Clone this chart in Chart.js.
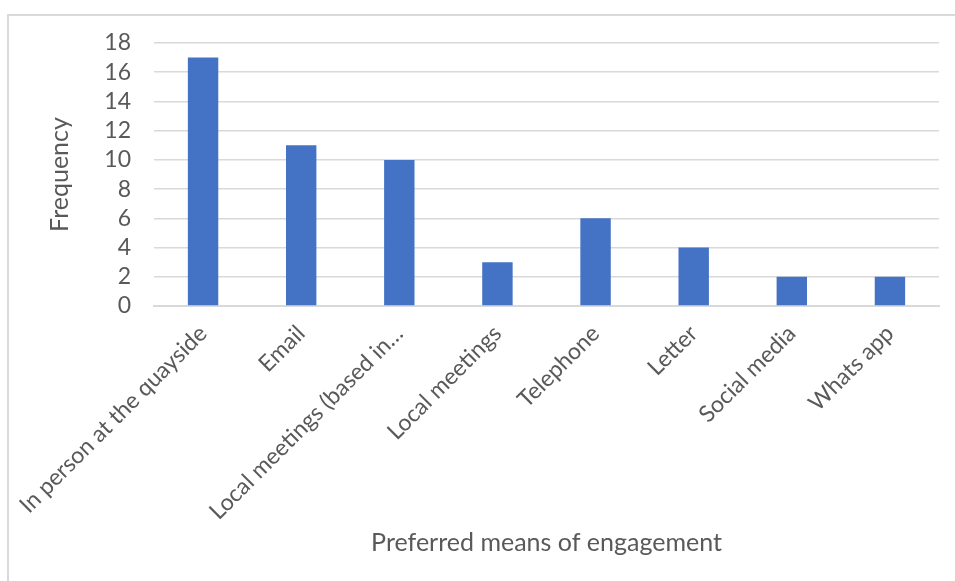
<!DOCTYPE html>
<html>
<head>
<meta charset="utf-8">
<script src="https://cdn.jsdelivr.net/npm/chart.js@4/dist/chart.umd.min.js"></script>
<style>
  html, body { margin: 0; padding: 0; background: #ffffff; }
  #wrap { position: relative; width: 955px; height: 581px; }
</style>
</head>
<body>
<div id="wrap"><canvas id="c" width="955" height="581"></canvas></div>
<script>
const categories = [
  "In person at the quayside",
  "Email",
  "Local meetings (based in\u2026",
  "Local meetings",
  "Telephone",
  "Letter",
  "Social media",
  "Whats app"
];
const frequency = [17, 11, 10, 3, 6, 4, 2, 2];
const yTicks = [0, 2, 4, 6, 8, 10, 12, 14, 16, 18];
const yTitle = "Frequency";
const xTitle = "Preferred means of engagement";

const FONT = "Lato, 'Open Sans', sans-serif";
const TEXT = "#595959";

const frame = {
  id: "frame",
  beforeDraw(chart) {
    const ctx = chart.ctx;
    ctx.save();
    ctx.fillStyle = "#ffffff";
    ctx.fillRect(0, 0, chart.width, chart.height);
    ctx.strokeStyle = "#d9d9d9";
    ctx.lineWidth = 2;
    ctx.strokeRect(8, 15, 1000, 700);
    ctx.restore();
  }
};

new Chart(document.getElementById("c"), {
  type: "bar",
  data: {
    labels: categories,
    datasets: [{
      label: yTitle,
      data: frequency,
      backgroundColor: "#4472C4",
      borderWidth: 0,
      categoryPercentage: 1,
      barPercentage: 0.31
    }]
  },
  plugins: [frame],
  options: {
    responsive: false,
    animation: false,
    layout: { padding: { left: 0, right: 16, top: 43, bottom: 0 } },
    plugins: { legend: { display: false }, tooltip: { enabled: false } },
    scales: {
      y: {
        min: yTicks[0],
        max: yTicks[yTicks.length - 1],
        afterBuildTicks(s) { s.ticks = yTicks.map(v => ({ value: v })); },
        ticks: { autoSkip: false, color: TEXT, font: { family: FONT, size: 23 }, padding: 23 },
        grid: { color: "#d9d9d9", lineWidth: 1.5, drawTicks: false },
        border: { display: false },
        title: { display: true, text: yTitle, color: TEXT, font: { family: FONT, size: 25 }, padding: { top: 45 } },
        afterFit(s) { s.width = 154; }
      },
      x: {
        ticks: { color: TEXT, font: { family: FONT, size: 23 }, maxRotation: 45, minRotation: 45, autoSkip: false, padding: 6 },
        grid: { display: false },
        border: { display: true, color: "#d9d9d9", width: 2 },
        title: { display: true, text: xTitle, color: TEXT, font: { family: FONT, size: 25 }, padding: { bottom: 23 } },
        afterFit(s) { s.height = 275; }
      }
    }
  }
});
</script>
</body>
</html>
